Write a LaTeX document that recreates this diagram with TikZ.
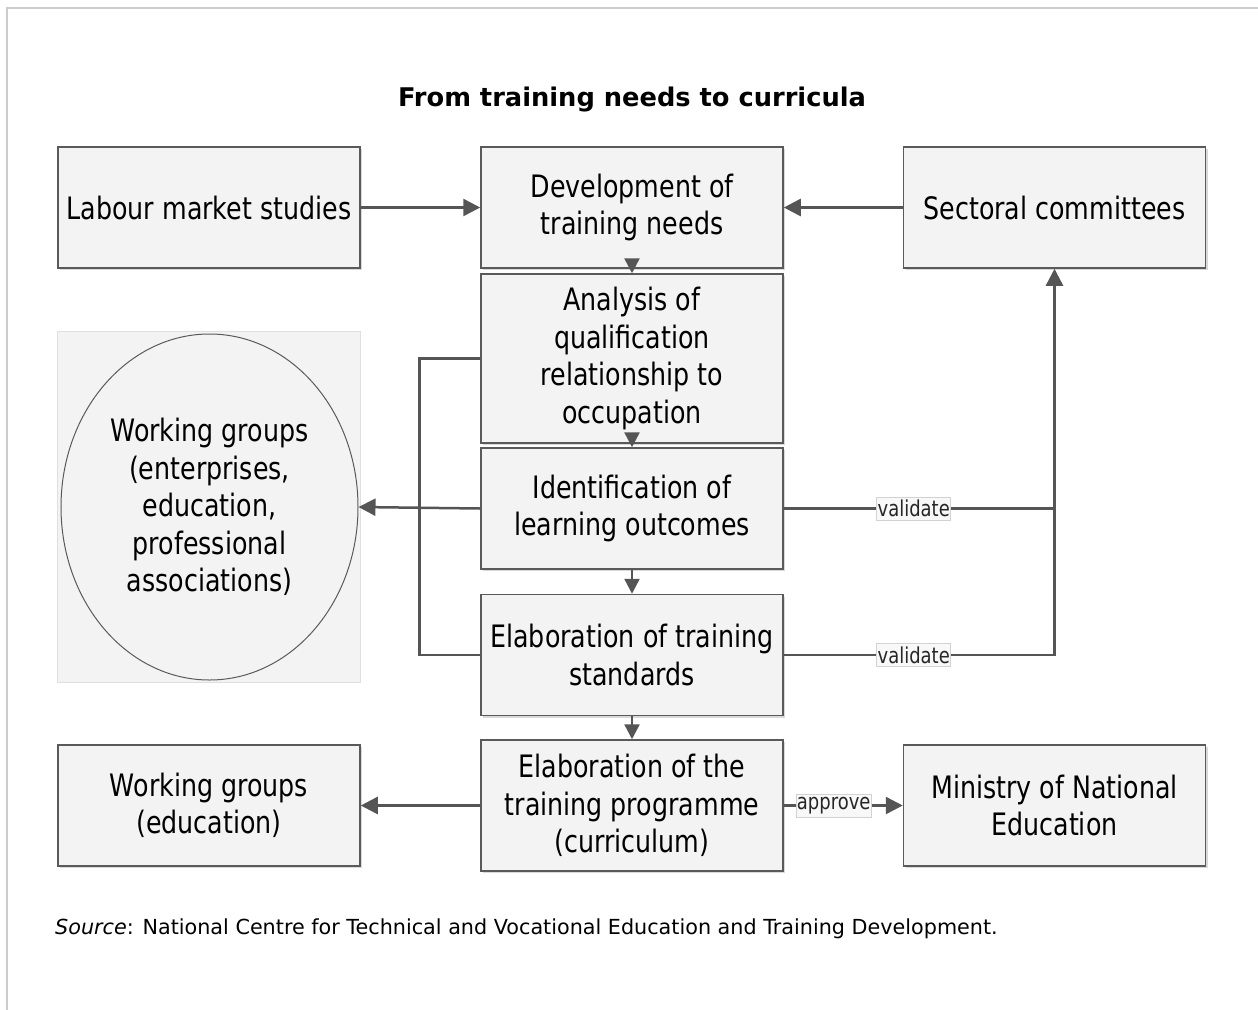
\documentclass[tikz,border=0pt]{standalone}
\usepackage{fontspec}
\setmainfont{DejaVu Sans}
\newfontfamily\boxfont[FakeStretch=0.82]{DejaVu Sans}
\usetikzlibrary{arrows.meta,shapes.geometric,shadows}
\definecolor{linec}{HTML}{555555}
\definecolor{boxfill}{HTML}{F3F3F3}
\definecolor{boxdraw}{HTML}{5A5A5A}
\definecolor{tagfill}{HTML}{F8F8F8}
\begin{document}
\begin{tikzpicture}[x=1bp,y=-1bp,
  box/.style={rectangle, draw=boxdraw, line width=1.5bp, fill=boxfill,
    minimum width=302bp, minimum height=121bp, align=center, inner sep=0pt,
    font=\boxfont\fontsize{31}{37.5}\selectfont,
    drop shadow={shadow xshift=2bp, shadow yshift=-2bp, fill=gray!30, opacity=1}},
  ln/.style={draw=linec, line width=2.5bp},
  arr/.style={ln, -{Triangle[length=17bp,width=17bp]}},
  darr/.style={ln, -{Triangle[length=15bp,width=15bp]}},
  tag/.style={fill=tagfill, draw=gray!35, line width=0.8bp, inner xsep=1bp, inner ysep=3bp,
    text=black!85, font=\boxfont\fontsize{22}{24}\selectfont}]
\useasboundingbox (0,0) rectangle (1258,1010);
\draw[draw=gray!40, line width=2bp] (7,1010) -- (7,8) -- (1258,8);

\node[font=\bfseries\fontsize{25.8}{30}\selectfont] (title) at (632,100) {From training needs to curricula};

\node[box] (lab) at (209,207.5) {Labour market studies};
\node[box] (dev) at (632,207.5) {Development of\\training needs};
\node[box] (sec) at (1054.5,207.5) {Sectoral committees};
\node[box, minimum height=169bp] (ana) at (632,358.5) {Analysis of\\qualification\\relationship to\\occupation};
\node[box] (ide) at (632,508.5) {Identification of\\learning outcomes};
\node[box] (sta) at (632,655) {Elaboration of training\\standards};
\node[box, minimum height=131bp] (pro) at (632,805.5) {Elaboration of the\\training programme\\(curriculum)};
\node[box] (wge) at (209,805.5) {Working groups\\(education)};
\node[box] (min) at (1054.5,805.5) {Ministry of National\\Education};

\node[rectangle, fill=boxfill, draw=gray!25, line width=0.8bp, minimum width=303bp, minimum height=351bp] (wgbg) at (208.5,506.5) {};
\node[ellipse, draw=boxdraw, line width=1bp, fill=boxfill, minimum width=297bp, minimum height=346bp, inner sep=0pt, align=center,
  font=\boxfont\fontsize{31}{37.5}\selectfont] (wgw) at (209.5,507) {Working groups\\(enterprises,\\education,\\professional\\associations)};

\draw[arr] (lab) -- (dev);
\draw[arr] (sec) -- (dev);
\draw[darr] (dev) -- (ana);
\draw[darr] (ana) -- (ide);
\draw[darr] (ide) -- (sta);
\draw[darr] (sta) -- (pro);
\draw[arr] (pro) -- (wge);
\draw[arr] (pro) -- node[tag, pos=0.42] (ap) {approve} (min);

\draw[ln] (ana.west) -- ++(-61,0) |- (sta.west);
\draw[arr] (ide.west) -- (wgw.east);

\draw[arr] (ide.east) -- node[tag, pos=0.48] (v1) {validate} (ide.east -| sec.south) -- (sec.south);
\draw[ln] (sta.east) -- node[tag, pos=0.48] (v2) {validate} (sta.east -| sec.south) -- (ide.east -| sec.south);

\node[anchor=west, inner sep=0pt, font=\fontsize{20.8}{24}\selectfont] (src) at (55,929) {\textit{Source}: National Centre for Technical and Vocational Education and Training Development.};
\end{tikzpicture}
\end{document}
